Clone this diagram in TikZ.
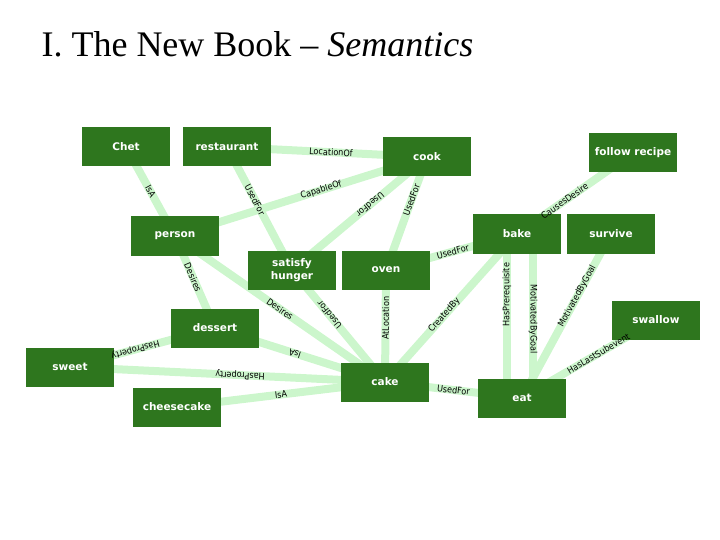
\documentclass[tikz,border=0pt]{standalone}
\usepackage{fontspec}
\setmainfont{Liberation Serif}
\newfontfamily\nodefont{DejaVu Sans}
\newfontfamily\labfont{DejaVu Sans Condensed}
\usetikzlibrary{backgrounds}
\definecolor{nodegreen}{RGB}{46,118,30}
\definecolor{edgegreen}{RGB}{204,246,204}
\begin{document}
\begin{tikzpicture}[x=1pt,y=-1pt,
  cnode/.style={fill=nodegreen,text=white,minimum width=88pt,minimum height=39pt,inner sep=1pt,align=center,font=\nodefont\fontsize{10.5}{12.5}\selectfont\bfseries},
  rel/.style={draw=edgegreen,line width=8pt},
  lab/.style={sloped,allow upside down,font=\labfont\fontsize{9}{9}\selectfont,inner sep=0pt}]
\useasboundingbox (0,0) rectangle (720,540);
\node[anchor=base west,font=\fontsize{36}{40}\selectfont] (title) at (38,57) {I.\ The New Book -- \textit{Semantics}};
\node[cnode] (chet) at (126,147) {Chet};
\node[cnode] (rest) at (227,147) {restaurant};
\node[cnode] (cook) at (427,157) {cook};
\node[cnode] (follow) at (633,153) {follow recipe};
\node[cnode] (person) at (175,236) {person};
\node[cnode] (bake) at (517,234) {bake};
\node[cnode] (survive) at (611,234) {survive};
\node[cnode] (satisfy) at (292,270) {satisfy\\hunger};
\node[cnode] (oven) at (386,270) {oven};
\node[cnode] (dessert) at (215,328) {dessert};
\node[cnode] (swallow) at (656,320) {swallow};
\node[cnode] (sweet) at (70,367) {sweet};
\node[cnode] (cheese) at (177,407) {cheesecake};
\node[cnode] (cake) at (385,382) {cake};
\node[cnode] (eat) at (522,398) {eat};
\begin{scope}[on background layer]
\draw[rel] (chet.center) -- (person.center);
\draw[rel] (rest.center) -- (cook.center);
\draw[rel] (rest.center) -- (satisfy.center);
\draw[rel] (person.center) -- (cook.center);
\draw[rel] (cook.center) -- (satisfy.center);
\draw[rel] (oven.center) -- (cook.center);
\draw[rel] (oven.center) -- (bake.center);
\draw[rel] (bake.center) -- (follow.center);
\draw[rel] (cake.center) -- (bake.center);
\draw[rel] (cake.center) -- (eat.center);
\draw[rel] (eat.center) -- (swallow.center);
\draw[rel] (eat.center) -- (survive.center);
\draw[rel] ([xshift=-15pt]eat.center) -- ([xshift=-10pt]bake.center);
\draw[rel] ([xshift=16pt]bake.center) -- ([xshift=11pt]eat.center);
\draw[rel] (person.center) -- (dessert.center);
\draw[rel] (person.center) -- (cake.center);
\draw[rel] (cake.center) -- (satisfy.center);
\draw[rel] (cake.center) -- (oven.center);
\draw[rel] (cake.center) -- (dessert.center);
\draw[rel] (dessert.center) -- (sweet.center);
\draw[rel] (cake.center) -- (sweet.center);
\draw[rel] (cheese.center) -- (cake.center);
\end{scope}
\path (chet.center) -- node[lab,pos=0.5]{IsA} (person.center);
\path (rest.center) -- node[lab,pos=0.52]{LocationOf} (cook.center);
\path (rest.center) -- node[lab,pos=0.43]{UsedFor} (satisfy.center);
\path (person.center) -- node[lab,pos=0.58]{CapableOf} (cook.center);
\path (cook.center) -- node[lab,pos=0.42]{UsedFor} (satisfy.center);
\path (oven.center) -- node[lab,pos=0.62]{UsedFor} (cook.center);
\path (oven.center) -- node[lab,pos=0.51]{UsedFor} (bake.center);
\path (bake.center) -- node[lab,pos=0.41]{CausesDesire} (follow.center);
\path (cake.center) -- node[lab,pos=0.45]{CreatedBy} (bake.center);
\path (cake.center) -- node[lab,pos=0.5]{UsedFor} (eat.center);
\path (eat.center) -- node[lab,pos=0.57]{HasLastSubevent} (swallow.center);
\path (eat.center) -- node[lab,pos=0.62]{MotivatedByGoal} (survive.center);
\path ([xshift=-15pt]eat.center) -- node[lab,pos=0.63]{HasPrerequisite} ([xshift=-10pt]bake.center);
\path ([xshift=16pt]bake.center) -- node[lab,pos=0.52]{MotivatedByGoal} ([xshift=11pt]eat.center);
\path (person.center) -- node[lab,pos=0.45]{Desires} (dessert.center);
\path (person.center) -- node[lab,pos=0.5]{Desires} (cake.center);
\path (cake.center) -- node[lab,pos=0.6]{UsedFor} (satisfy.center);
\path (cake.center) -- node[lab,pos=0.57]{AtLocation} (oven.center);
\path (cake.center) -- node[lab,pos=0.53]{IsA} (dessert.center);
\path (dessert.center) -- node[lab,pos=0.55]{HasProperty} (sweet.center);
\path (cake.center) -- node[lab,pos=0.46]{HasProperty} (sweet.center);
\path (cheese.center) -- node[lab,pos=0.5]{IsA} (cake.center);
\end{tikzpicture}
\end{document}
